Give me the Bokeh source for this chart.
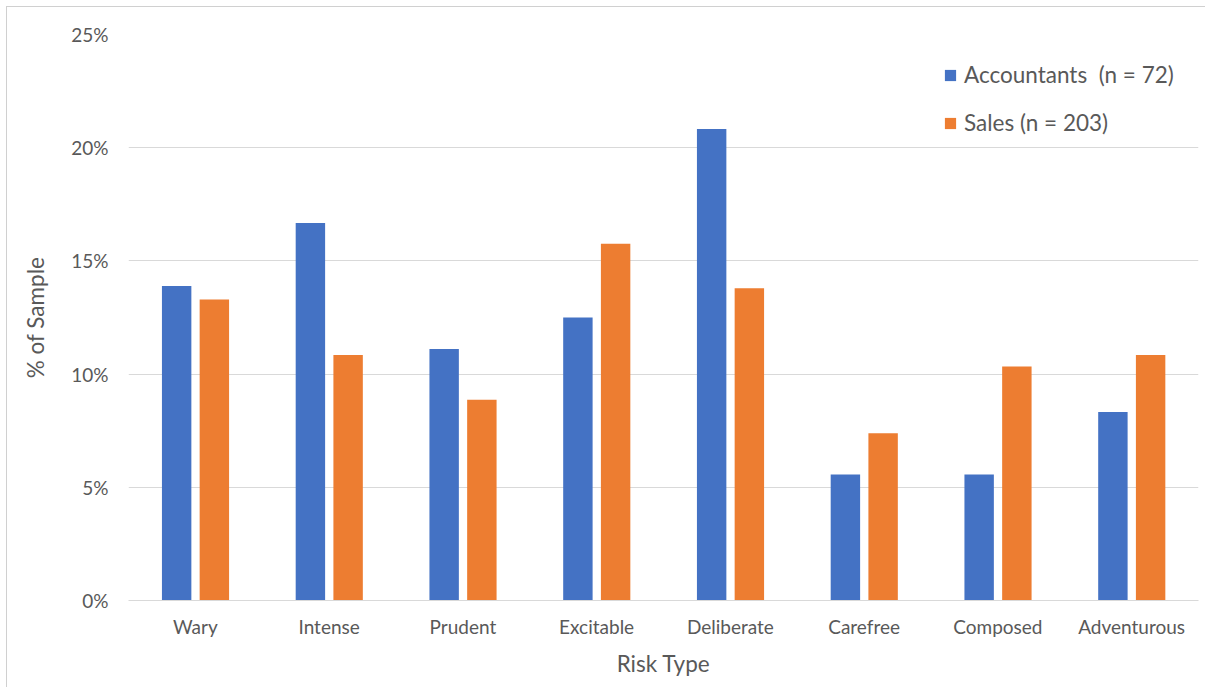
from bokeh.plotting import figure
from bokeh.models import ColumnDataSource, NumeralTickFormatter, FixedTicker, Legend, LegendItem
from bokeh.transform import dodge
from bokeh.embed import file_html
from bokeh.resources import INLINE

categories = ["Wary", "Intense", "Prudent", "Excitable", "Deliberate", "Carefree", "Composed", "Adventurous"]
accountants = [0.1389, 0.1667, 0.1111, 0.125, 0.2083, 0.0556, 0.0556, 0.0833]
sales = [0.1330, 0.1084, 0.0887, 0.1576, 0.1379, 0.0739, 0.1034, 0.1084]
series_names = ["Accountants  (n = 72)", "Sales (n = 203)"]
y_ticks = [0, 0.05, 0.10, 0.15, 0.20, 0.25]

FONT = "Lato"
TXT = "#595959"
GRID = "#d9d9d9"
BLUE = "#4472c4"
ORANGE = "#ed7d31"

src = ColumnDataSource(dict(cat=categories, acc=accountants, sal=sales))

p = figure(x_range=categories, y_range=(0, 0.25), width=1198, height=680,
           output_backend="svg", toolbar_location=None,
           min_border_left=121, min_border_right=7, min_border_top=27, min_border_bottom=87)
p.styles = {"margin-left": "7px", "margin-top": "7px", "outline": "1px solid #d0d0d0"}

r1 = p.vbar(x=dodge("cat", -0.14, range=p.x_range), top="acc", width=0.22, source=src,
            fill_color=BLUE, line_color=None)
r2 = p.vbar(x=dodge("cat", 0.142, range=p.x_range), top="sal", width=0.22, source=src,
            fill_color=ORANGE, line_color=None)

p.outline_line_color = None
p.xgrid.grid_line_color = None
p.ygrid.grid_line_color = GRID
p.ygrid.grid_line_width = 1

p.yaxis.ticker = FixedTicker(ticks=y_ticks)
p.yaxis.formatter = NumeralTickFormatter(format="0%")
p.yaxis.axis_line_color = None
p.yaxis.major_tick_line_color = None
p.yaxis.minor_tick_line_color = None
p.yaxis.major_label_standoff = 14
p.yaxis.axis_label = "% of Sample"
p.yaxis.axis_label_standoff = 19

p.xaxis.axis_line_color = GRID
p.xaxis.major_tick_line_color = None
p.xaxis.minor_tick_line_color = None
p.xaxis.major_label_standoff = 8
p.xaxis.axis_label = "Risk Type"
p.xaxis.axis_label_standoff = 9

for ax in (p.xaxis[0], p.yaxis[0]):
    ax.major_label_text_font = FONT
    ax.major_label_text_font_size = "19px"
    ax.major_label_text_color = TXT
    ax.axis_label_text_font = FONT
    ax.axis_label_text_font_size = "22.5px"
    ax.axis_label_text_font_style = "normal"
    ax.axis_label_text_color = TXT

legend = Legend(items=[LegendItem(label=series_names[0], renderers=[r1]),
                       LegendItem(label=series_names[1], renderers=[r2])],
                location="top_right")
legend.border_line_color = None
legend.background_fill_alpha = 0
legend.label_text_font = FONT
legend.label_text_font_size = "22.5px"
legend.label_text_color = TXT
legend.glyph_width = 14
legend.glyph_height = 14
legend.spacing = 21
legend.margin = 0
legend.padding = 0
legend.label_standoff = 7
legend.location = (815, 464)
p.add_layout(legend, "center")

open("out.html", "w").write(file_html(p, INLINE))
